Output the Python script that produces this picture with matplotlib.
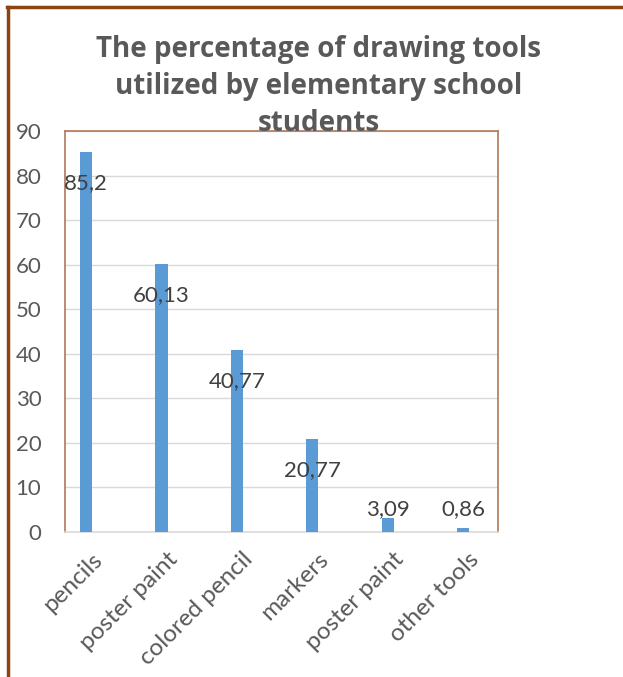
import matplotlib.pyplot as plt
import matplotlib.lines as mlines
import matplotlib.transforms as mtransforms

# chart data
tools = ["pencils", "poster paint", "colored pencil", "markers", "poster paint", "other tools"]
percent = [85.2, 60.13, 40.77, 20.77, 3.09, 0.86]
percent_labels = ["85,2", "60,13", "40,77", "20,77", "3,09", "0,86"]
y_ticks = [0, 10, 20, 30, 40, 50, 60, 70, 80, 90]

plt.rcParams['font.family'] = ['Lato', 'DejaVu Sans']

fig = plt.figure(figsize=(6.23, 6.77), dpi=100)
ax = fig.add_axes([0.1043, 0.2142, 0.6950, 0.5923])

x = list(range(len(tools)))
ax.bar(x, percent, width=0.16, color="#5B9BD5", zorder=3)

# labels sit inside the bar for tall bars, above it for small ones
for i, (v, txt) in enumerate(zip(percent, percent_labels)):
    if v > 10:
        ax.annotate(txt, (i, v), xytext=(0, -22), textcoords="offset points",
                    ha="center", va="center", fontsize=16, color="#404040", zorder=4)
    else:
        ax.annotate(txt, (i, 5.2), ha="center", va="center",
                    fontsize=16, color="#404040", zorder=4)

ax.set_ylim(0, 90)
ax.set_xlim(-0.28, 5.46)
ax.set_yticks(y_ticks)
ax.set_yticklabels([str(t) for t in y_ticks], fontsize=16, color="#595959")
ax.tick_params(axis="y", length=0, pad=17)
ax.set_xticks(x)
ax.set_xticklabels(tools, rotation=45, ha="right", va="top", rotation_mode="anchor",
                   fontsize=17.5, color="#595959")
ax.tick_params(axis="x", length=0, pad=12)
shift = mtransforms.ScaledTranslation(5 / 100, 0, fig.dpi_scale_trans)
for lbl in ax.get_xticklabels():
    lbl.set_transform(lbl.get_transform() + shift)
ax.grid(axis="y", color="#D9D9D9", linewidth=1, zorder=0)

for side in ["left", "top", "right"]:
    ax.spines[side].set_color("#B0785A")
    ax.spines[side].set_linewidth(1.2)
ax.spines["bottom"].set_color("#D9D9D9")
ax.spines["bottom"].set_linewidth(1.2)

fig.text(0.511, 0.949, "The percentage of drawing tools\nutilized by elementary school\nstudents",
         ha="center", va="top", fontsize=20, fontweight="bold", color="#595959",
         family=["Open Sans", "DejaVu Sans"], linespacing=1.37)

# outer frame, only top and left edges visible
fig.add_artist(mlines.Line2D([0.012, 1.0], [0.9897, 0.9897], color="#8B4513", linewidth=2.5))
fig.add_artist(mlines.Line2D([0.0128, 0.0128], [0.0, 0.9897], color="#8B4513", linewidth=2.5))

fig.savefig("out.png", dpi=100)
